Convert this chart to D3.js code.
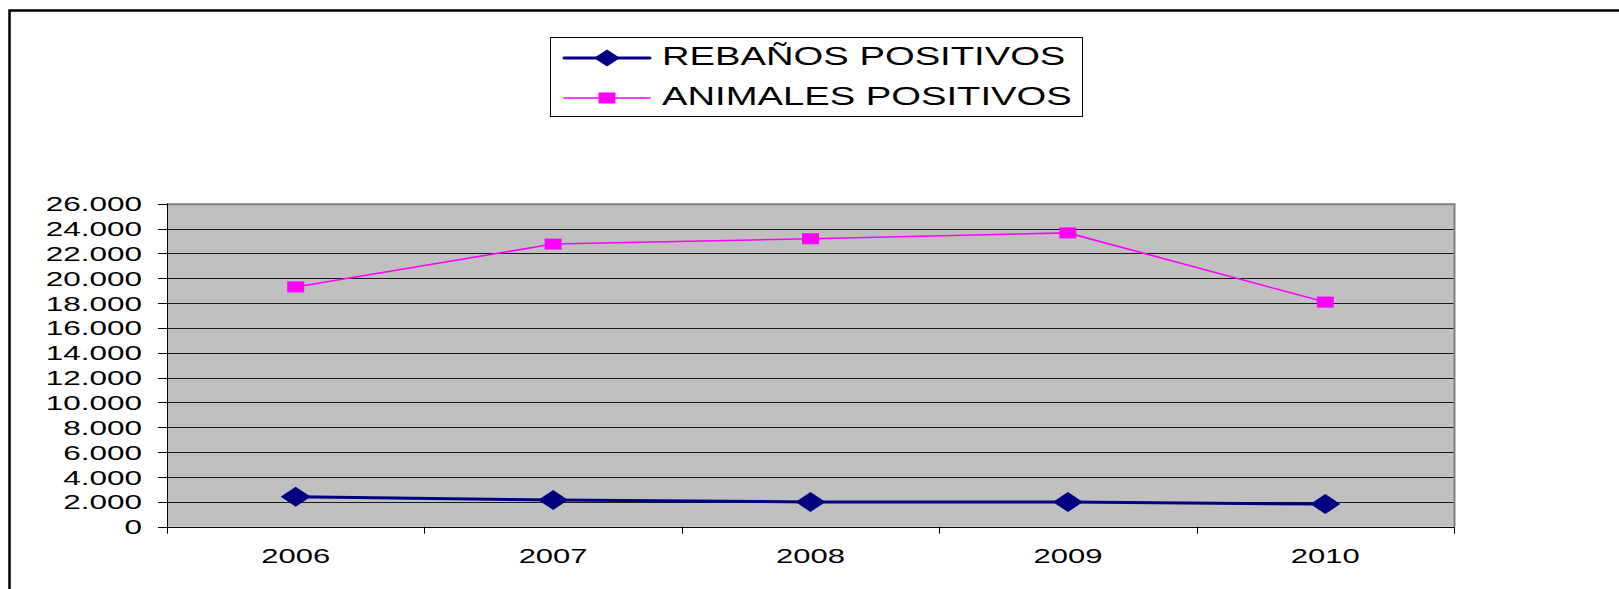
<!DOCTYPE html>
<html>
<head>
<meta charset="utf-8">
<script src="https://cdn.jsdelivr.net/npm/d3@7"></script>
<style>
  body { margin: 0; background: #fff; }
  svg text { font-family: "Liberation Sans", Arial, sans-serif; fill: #000; }
</style>
</head>
<body>
<div id="chart"></div>
<script>
// data
var years = ["2006", "2007", "2008", "2009", "2010"];
var rebanos = [2410, 2150, 1990, 1980, 1820];
var animales = [19300, 22750, 23180, 23650, 18080];
var yTicks = [0, 2000, 4000, 6000, 8000, 10000, 12000, 14000, 16000, 18000, 20000, 22000, 24000, 26000];
var seriesNames = ["REBAÑOS POSITIVOS", "ANIMALES POSITIVOS"];

var W = 1619, H = 589;
var plot = {left: 167, right: 1454, top: 203.7, bottom: 526.7};
var stretch = 1.5; // the original picture is widened horizontally

var svg = d3.select("#chart").append("svg")
    .attr("width", W)
    .attr("height", H);

// outer frame (top + left only)
svg.append("path")
    .attr("d", "M9.5," + H + "V10.5H" + W)
    .attr("fill", "none")
    .attr("stroke", "#000")
    .attr("stroke-width", 2.5);

var x = d3.scaleBand()
    .domain(years)
    .range([plot.left, plot.right])
    .padding(0);

var y = d3.scaleLinear()
    .domain([0, 26000])
    .range([plot.bottom, plot.top]);

// plot area
svg.append("rect")
    .attr("x", plot.left)
    .attr("y", plot.top)
    .attr("width", plot.right - plot.left)
    .attr("height", plot.bottom - plot.top)
    .attr("fill", "#c0c0c0");

// gridlines
svg.append("g")
  .selectAll("line")
  .data(yTicks.filter(function(d) { return d > 0 && d < 26000; }))
  .enter().append("line")
    .attr("x1", plot.left)
    .attr("x2", plot.right)
    .attr("y1", function(d) { return Math.round(y(d)) + 0.5; })
    .attr("y2", function(d) { return Math.round(y(d)) + 0.5; })
    .attr("stroke", "#1a1a1a")
    .attr("stroke-width", 1);

// top and right grey border
svg.append("path")
    .attr("d", "M" + plot.left + "," + (plot.top + 0.5) + "H" + (plot.right + 0.5) + "V" + plot.bottom)
    .attr("fill", "none")
    .attr("stroke", "#808080")
    .attr("stroke-width", 2);

// y axis
var yAxis = svg.append("g");
yAxis.append("line")
    .attr("x1", plot.left + 0.5).attr("x2", plot.left + 0.5)
    .attr("y1", plot.top).attr("y2", plot.bottom + 6)
    .attr("stroke", "#000");
yAxis.selectAll("line.tick")
  .data(yTicks)
  .enter().append("line")
    .attr("class", "tick")
    .attr("x1", 158).attr("x2", plot.left)
    .attr("y1", function(d) { return Math.round(y(d)) + 0.5; })
    .attr("y2", function(d) { return Math.round(y(d)) + 0.5; })
    .attr("stroke", "#000");
yAxis.selectAll("text")
  .data(yTicks)
  .enter().append("text")
    .attr("transform", function(d) { return "translate(142," + (y(d) + 7.5) + ") scale(" + stretch + ",1)"; })
    .attr("text-anchor", "end")
    .attr("font-size", 21)
    .text(function(d) { return d3.format(",")(d).replace(/,/g, "."); });

// x axis
var xAxis = svg.append("g");
xAxis.append("line")
    .attr("x1", plot.left).attr("x2", plot.right + 1)
    .attr("y1", Math.round(plot.bottom) + 0.5).attr("y2", Math.round(plot.bottom) + 0.5)
    .attr("stroke", "#000");
xAxis.selectAll("line.tick")
  .data(years.concat(["end"]))
  .enter().append("line")
    .attr("class", "tick")
    .attr("x1", function(d, i) { return Math.round(plot.left + i * x.bandwidth()) + 0.5; })
    .attr("x2", function(d, i) { return Math.round(plot.left + i * x.bandwidth()) + 0.5; })
    .attr("y1", plot.bottom).attr("y2", plot.bottom + 7)
    .attr("stroke", "#000");
xAxis.selectAll("text")
  .data(years)
  .enter().append("text")
    .attr("transform", function(d) { return "translate(" + (x(d) + x.bandwidth() / 2) + ",563) scale(1.55,1)"; })
    .attr("text-anchor", "middle")
    .attr("font-size", 20)
    .text(function(d) { return d; });

var cx = function(d, i) { return x(years[i]) + x.bandwidth() / 2; };

// ANIMALES line + squares
var lineA = d3.line()
    .x(function(d, i) { return cx(d, i); })
    .y(function(d) { return y(d); });

svg.append("path")
    .datum(animales)
    .attr("d", lineA)
    .attr("fill", "none")
    .attr("stroke", "#ff00ff")
    .attr("stroke-width", 1.6);

svg.append("g")
  .selectAll("rect")
  .data(animales)
  .enter().append("rect")
    .attr("x", function(d, i) { return cx(d, i) - 8.5; })
    .attr("y", function(d) { return y(d) - 5.5; })
    .attr("width", 17)
    .attr("height", 11)
    .attr("fill", "#ff00ff");

// REBAÑOS line + diamonds
svg.append("path")
    .datum(rebanos)
    .attr("d", lineA)
    .attr("fill", "none")
    .attr("stroke", "#000080")
    .attr("stroke-width", 3);

function diamond(w, h) {
  return "M" + (-w / 2) + ",0L0," + (-h / 2) + "L" + (w / 2) + ",0L0," + (h / 2) + "Z";
}

svg.append("g")
  .selectAll("path")
  .data(rebanos)
  .enter().append("path")
    .attr("transform", function(d, i) { return "translate(" + cx(d, i) + "," + y(d) + ")"; })
    .attr("d", diamond(30, 20))
    .attr("fill", "#000080");

// legend
var legend = svg.append("g");
legend.append("rect")
    .attr("x", 550.5).attr("y", 37.5)
    .attr("width", 532).attr("height", 79)
    .attr("fill", "#fff")
    .attr("stroke", "#000");

var legRows = [
  {name: seriesNames[0], y: 58, color: "#000080", width: 3},
  {name: seriesNames[1], y: 98, color: "#ff00ff", width: 1.6}
];
legRows.forEach(function(r, i) {
  legend.append("line")
      .attr("x1", 564).attr("x2", 650)
      .attr("y1", r.y).attr("y2", r.y)
      .attr("stroke", r.color)
      .attr("stroke-width", r.width)
      .attr("stroke-linecap", "round");
  if (i === 0) {
    legend.append("path")
        .attr("transform", "translate(607," + r.y + ")")
        .attr("d", diamond(26, 17))
        .attr("fill", r.color);
  } else {
    legend.append("rect")
        .attr("x", 598.5).attr("y", r.y - 5.5)
        .attr("width", 17).attr("height", 11)
        .attr("fill", r.color);
  }
  legend.append("text")
      .attr("transform", "translate(662," + (r.y + 6.5) + ") scale(1.47,1)")
      .attr("font-size", 26)
      .text(r.name);
});
</script>
</body>
</html>
